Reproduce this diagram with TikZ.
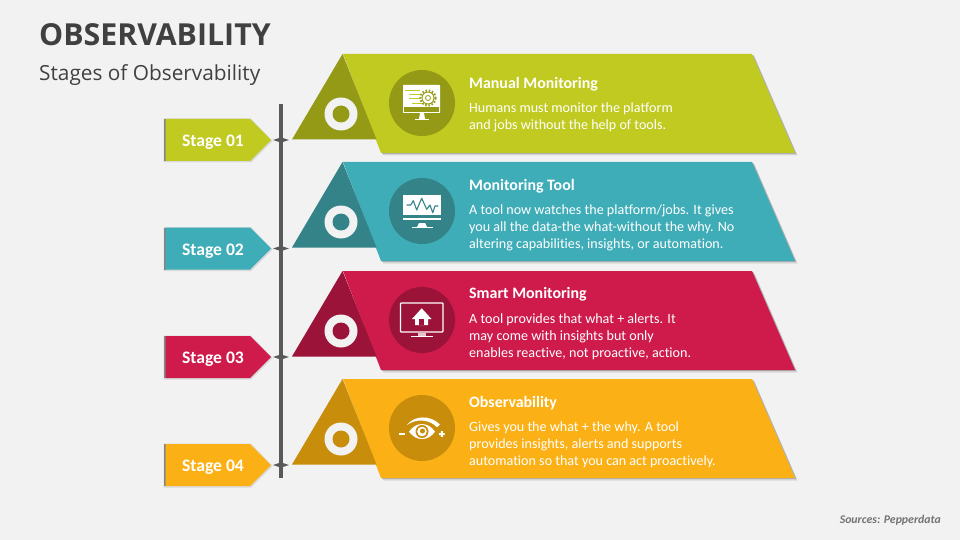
\documentclass[tikz,border=0pt]{standalone}
\usepackage{fontspec}
\setmainfont[Ligatures=NoCommon]{Carlito}
\newfontfamily\titlefont{Open Sans}
\definecolor{bgc}{HTML}{F2F2F2}
\definecolor{ca}{HTML}{C1CA20}\definecolor{da}{HTML}{959A16}
\definecolor{cb}{HTML}{3FADB8}\definecolor{db}{HTML}{338389}
\definecolor{cc}{HTML}{CE1B4B}\definecolor{dc}{HTML}{9C1339}
\definecolor{cd}{HTML}{FBB116}\definecolor{dd}{HTML}{C98D0C}
\definecolor{inkc}{HTML}{404040}
\definecolor{barc}{HTML}{595959}
\tikzset{x=1pt,y=-1pt,
 headt/.style={anchor=west,text=white,font=\fontsize{15.9}{18}\selectfont\bfseries,inner sep=0pt},
 bodyt/.style={anchor=north west,text=white,font=\fontsize{14.1}{17}\selectfont,align=left,inner sep=0pt},
 staget/.style={text=white,font=\fontsize{17.6}{20}\selectfont\bfseries,inner sep=0pt},
 ic/.style={white,line width=1pt},
 softa/.style={fill=black,opacity=.2},
 softb/.style={fill=black,opacity=.1},
}
\newcommand{\banner}[9]{% y, color, dark, name, head, body, stage, tagy, icon
 \begin{scope}[yshift=-#1pt]
  \fill[softb] (345.5,2.5) -- (754.5,2.5) -- (797.5,101.5) -- (383.5,101.5) -- cycle;
  \fill[softa] (344.5,1.2) -- (753.5,1.2) -- (796.5,100.2) -- (382.5,100.2) -- cycle;
  \fill[#2] (343,0) -- (752,0) -- (795,99) -- (381,99) -- cycle;
  \fill[#3] (342.5,0) -- (292,85.5) -- (376.5,85.5) -- cycle;
  \fill[white!95!black] (341,60) circle[radius=16.5];
  \fill[#3] (341,60) circle[radius=8.5];
  \fill[#3] (422,49) circle[radius=33];
  \node[headt] (h#4) at (469,\hy) {#5};
  \node[bodyt] (b#4) at (469,\by) {#6};
  \begin{scope}[shift={(422,49)}] #9 \end{scope}
 \end{scope}
 \fill[softb] (163.5,#8-21.5) -- (251,#8-21.5) -- (272.5,#8+1) -- (251,#8+22.5) -- (163.5,#8+22.5) -- cycle;
 \fill[black!45!bgc] (163.5,#8-21) rectangle (166,#8+21);
 \fill[#2] (165.5,#8-21) -- (250,#8-21) -- (271,#8) -- (250,#8+21) -- (165.5,#8+21) -- cycle;
 \node[staget] (s#4) at (213,#8+2.5) {#7};
 \fill[barc] (273,#8) -- (281,#8-2.6) -- (289,#8) -- (281,#8+2.6) -- cycle;
}
\begin{document}
\begin{tikzpicture}
\useasboundingbox (0,0) rectangle (960,540);
\fill[bgc] (0,0) rectangle (960,540);
\node[anchor=west,inner sep=0pt,text=inkc,font=\titlefont\fontsize{30.3}{34}\selectfont\bfseries] (title) at (39,34.5) {OBSERVABILITY};
\node[anchor=west,inner sep=0pt,text=inkc,font=\titlefont\fontsize{20.8}{24}\selectfont] (subtitle) at (39,75) {Stages of Observability};
\node[anchor=east,inner sep=0pt,text=black!55,font=\fontsize{11.8}{14}\selectfont\bfseries\itshape] (src) at (941,520) {Sources: Pepperdata};
\fill[barc] (279,104) rectangle (283,478);
\def\hy{30}\def\by{49}
\banner{54}{ca}{da}{a}{Manual Monitoring}{Humans must monitor the platform\\and jobs without the help of tools.}{Stage 01}{140}{%
 \fill[white,rounded corners=.6] (-19,-18) rectangle (18,10);
 \fill[da] (-18,4.5) rectangle (17,9);
 \draw[ca,line width=.7] (-17,-13) -- (-2,-13) (-13,-9) -- (-1,-9) (-13,-4.5) -- (-2,-4.5) (-10,0) -- (1,0);
 \draw[da,line width=.9,fill=white] (6,-5) circle[radius=6];
 \draw[da,line width=2,dash pattern=on 1.6 off 1.7] (6,-5) circle[radius=7.6];
 \draw[da,line width=.8] (6,-5) circle[radius=2.5];
 \fill[white] (-2,10) -- (2,10) -- (3,16) -- (-3,16) -- cycle;
 \draw[ic] (-7,16.5) -- (7,16.5);
}
\def\hy{24.5}\def\by{43}
\banner{162}{cb}{db}{b}{Monitoring Tool}{A tool now watches the platform/jobs. It gives\\you all the data-the what-without the why. No\\altering capabilities, insights, or automation.}{Stage 02}{248.5}{%
 \fill[white] (-19,-16) rectangle (19,4);
 \draw[ic,line width=1.2] (-19,8) -- (19,8);
 \draw[db,line width=1.1,line join=round] (-15.3,-6) -- (-11.3,-6) -- (-8.7,-10.3) -- (-5.3,-1) -- (-.3,-12.7) -- (4.7,-1.7) -- (8,-6) -- (10.7,1.7) -- (13,-5) -- (16.3,-5);
 \fill[white] (-3,12) -- (3,12) -- (5,16) -- (-5,16) -- cycle;
 \draw[ic] (-10,16.5) -- (11,16.5);
}
\def\hy{23.5}
\banner{271}{cc}{dc}{c}{Smart Monitoring}{A tool provides that what + alerts. It\\may come with insights but only\\enables reactive, not proactive, action.}{Stage 03}{357}{%
 \draw[white,line width=1.2,rounded corners=.8] (-21.5,-17) rectangle (21,12);
 \fill[white] (-10,-1) -- (-.3,-11.7) -- (9.5,-1) -- (6,-1) -- (6,5) -- (-7,5) -- (-7,-1) -- cycle;
 \fill[dc] (-2.7,-1) rectangle (2.3,5);
 \fill[white!75!dc] (-4,12.5) rectangle (4,16);
 \draw[ic,line width=1.3] (-11,16.7) -- (11,16.7);
}
\def\hy{24.5}
\banner{379}{cd}{dd}{d}{Observability}{Gives you the what + the why. A tool\\provides insights, alerts and supports\\automation so that you can act proactively.}{Stage 04}{465}{%
 \fill[white] (-15,-3) .. controls (-8,-12.5) and (8,-13.5) .. (18,-3.5) -- (15,-.8) .. controls (7,-9) and (-6,-9.5) .. (-15,-3) -- cycle;
 \fill[white] (-13,3.7) .. controls (-6,-6.5) and (6,-6.5) .. (13,3.7) .. controls (6,13.5) and (-6,13.5) .. (-13,3.7) -- cycle;
 \fill[dd] (0,3.5) circle[radius=6.5];
 \fill[white] (0,3.5) circle[radius=4.8];
 \fill[dd] (.5,3) circle[radius=2.5];
 \fill[white] (-22.7,4.7) rectangle (-17,6.7);
 \fill[white] (17,5) rectangle (22.6,7) (18.8,3.2) rectangle (20.8,8.8);
}
\end{tikzpicture}
\end{document}
